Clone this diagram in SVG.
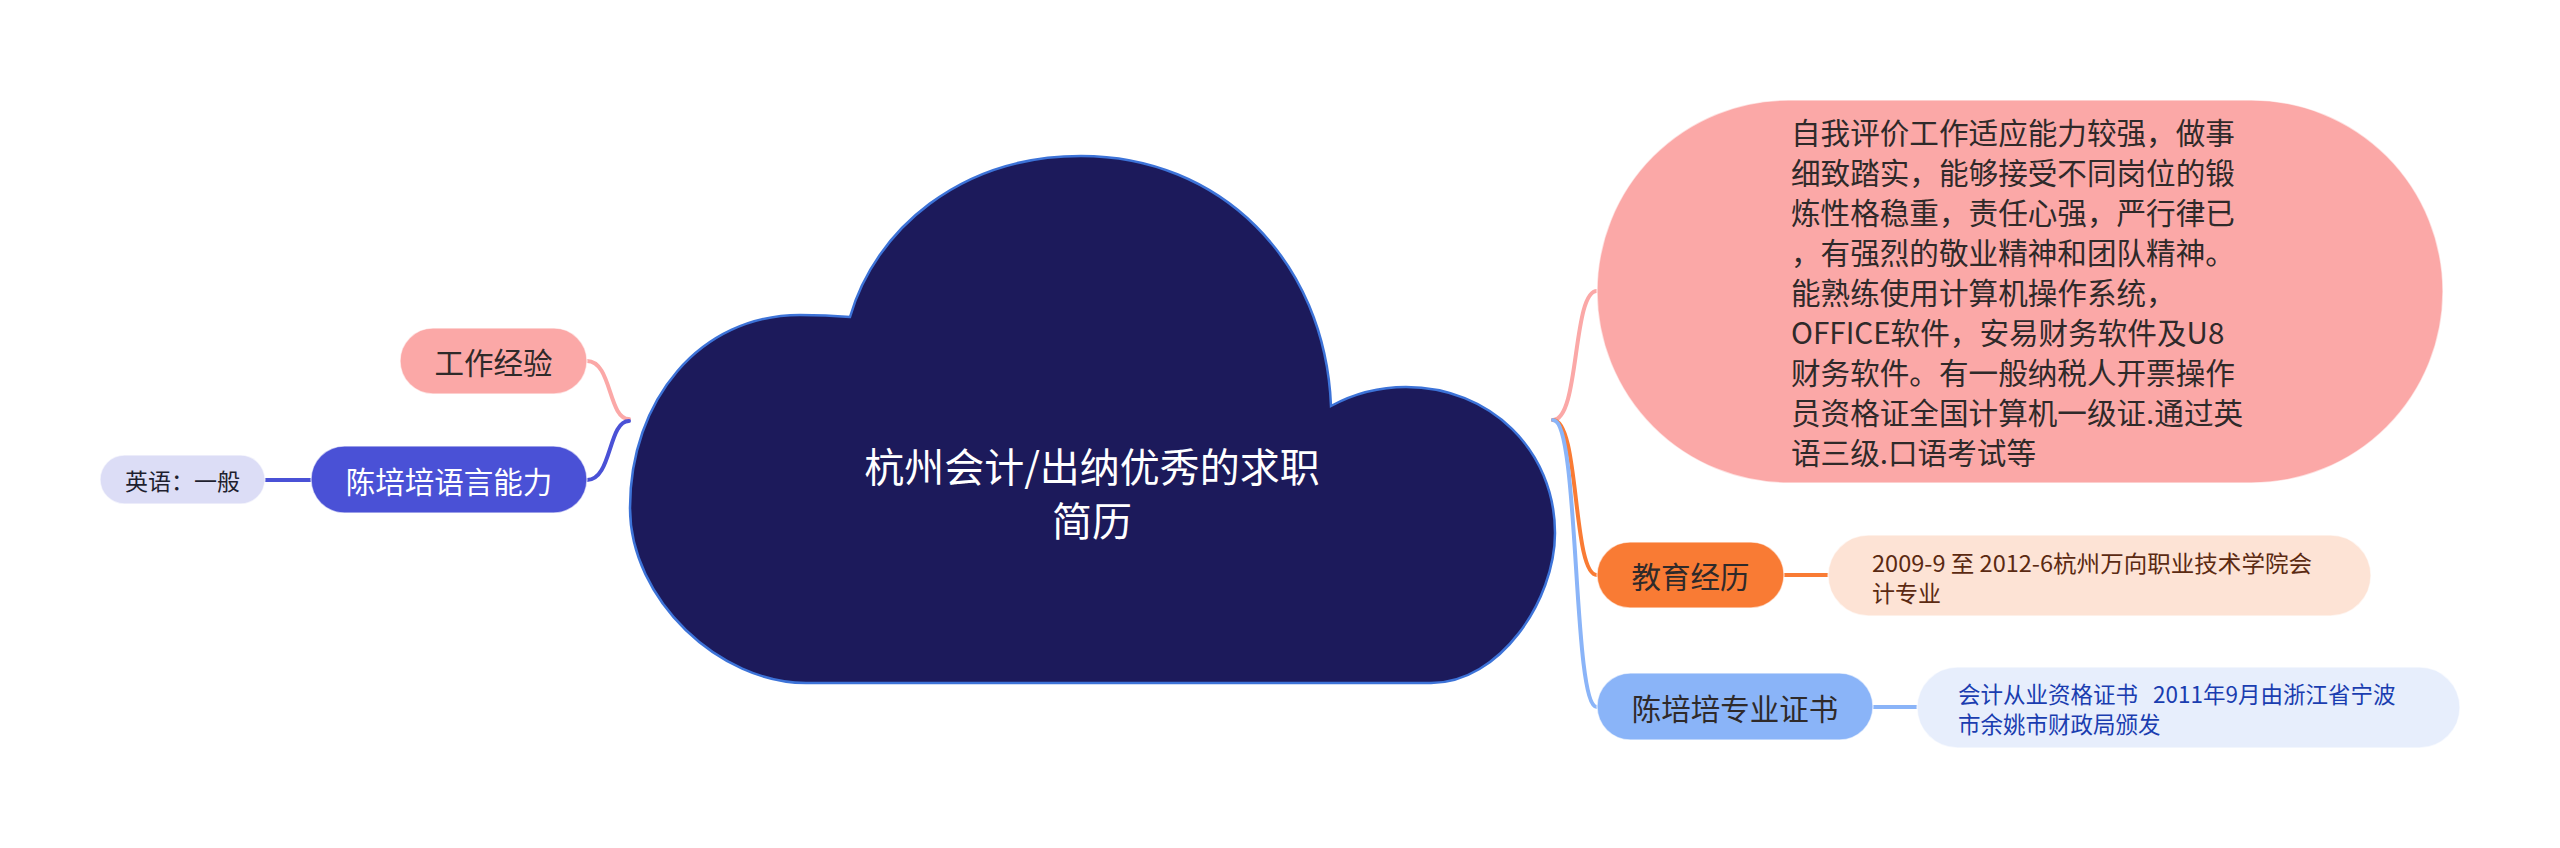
<svg xmlns="http://www.w3.org/2000/svg" width="2560" height="848" viewBox="0 0 2560 848">
<style>
text{font-family:"Noto Sans CJK SC","Noto Sans",sans-serif;dominant-baseline:central}
.lbl{text-anchor:middle;font-size:29.5px;fill:#2f2a2a}
.pill{stroke:#ffffff;stroke-opacity:0.6;stroke-width:1.5}
.conn{fill:none;stroke-width:4;stroke-linecap:round}
</style>
<rect width="2560" height="848" fill="#ffffff"/>
<g id="connectors">
<path class="conn" d="M587 361 C612 361,608 419,629 419" stroke="#FBA8A7"/>
<path class="conn" d="M629 421 C608 421,612 480,587 480" stroke="#4A51D6"/>
<path class="conn" d="M265 480 L311 480" stroke="#4A51D6"/>
<path class="conn" d="M1553 420 C1580 420,1572 291,1597 291" stroke="#FBA8A7" stroke-width="3.5"/>
<path class="conn" d="M1553 420 C1580 420,1572 575,1597 575" stroke="#F97B34"/>
<path class="conn" d="M1553 420 C1580 420,1572 707,1597 707" stroke="#8AB4F8"/>
<path class="conn" d="M1784 575 L1828 575" stroke="#F97B34"/>
<path class="conn" d="M1873 707 L1917 707" stroke="#8AB4F8"/>
</g>
<g id="root">
<path d="M850 317 C875 230,960 156,1081 156 C1220 156,1325 260,1331 406 C1355 393,1380 387,1406 387 C1490 387,1555 450,1555 533 C1555 600,1500 683,1431 683 L806 683 C720 683,630 600,630 508 C630 400,700 315,800 315 C820 315,838 316,850 317 Z" fill="#1C1A5B" stroke="#3D73D8" stroke-width="2.5"/>
<text x="1092" y="465" text-anchor="middle" font-size="40" fill="#ffffff">杭州会计/出纳优秀的求职</text>
<text x="1092" y="519" text-anchor="middle" font-size="40" fill="#ffffff">简历</text>
</g>
<g id="n-work">
<rect class="pill" x="400" y="328" width="187" height="66" rx="33" fill="#FBA8A7"/>
<text class="lbl" x="493.5" y="361">工作经验</text>
</g>
<g id="n-lang">
<rect class="pill" x="311" y="446" width="276" height="67" rx="33.5" fill="#4A51D6"/>
<text class="lbl" x="449" y="479.5" style="fill:#ffffff">陈培培语言能力</text>
</g>
<g id="n-eng">
<rect class="pill" x="100" y="455" width="165" height="49" rx="24.5" fill="#DCDDF6"/>
<text x="182.5" y="479.5" text-anchor="middle" font-size="23" fill="#1f1f2f">英语：一般</text>
</g>
<g id="n-self">
<rect class="pill" x="1597" y="100" width="846" height="383" rx="191.5" fill="#FBA8A7"/>
<g font-size="29.6" fill="#2f2a2a">
<text x="1791" y="131">自我评价工作适应能力较强，做事</text>
<text x="1791" y="171">细致踏实，能够接受不同岗位的锻</text>
<text x="1791" y="211">炼性格稳重，责任心强，严行律已</text>
<text x="1791" y="251">，有强烈的敬业精神和团队精神。</text>
<text x="1791" y="291">能熟练使用计算机操作系统，</text>
<text x="1791" y="331">OFFICE软件，安易财务软件及U8</text>
<text x="1791" y="371">财务软件。有一般纳税人开票操作</text>
<text x="1791" y="411">员资格证全国计算机一级证.通过英</text>
<text x="1791" y="451">语三级.口语考试等</text>
</g>
</g>
<g id="n-edu">
<rect class="pill" x="1597" y="542" width="187" height="66" rx="33" fill="#F97B34"/>
<text class="lbl" x="1690.5" y="575">教育经历</text>
</g>
<g id="n-edu-detail">
<rect class="pill" x="1828" y="535" width="543" height="81" rx="40.5" fill="#FDE3D5"/>
<g font-size="23" fill="#5B2A12">
<text x="1872" y="562" textLength="440" lengthAdjust="spacingAndGlyphs">2009-9 至 2012-6杭州万向职业技术学院会</text>
<text x="1872" y="592">计专业</text>
</g>
</g>
<g id="n-cert">
<rect class="pill" x="1597" y="673" width="276" height="67" rx="33.5" fill="#8AB4F8"/>
<text class="lbl" x="1735" y="706.5">陈培培专业证书</text>
</g>
<g id="n-cert-detail">
<rect class="pill" x="1917" y="667" width="543" height="81" rx="40.5" fill="#E7EEFC"/>
<g font-size="22.5" fill="#1A3DB0">
<text x="1958" y="693" style="white-space:pre">会计从业资格证书   2011年9月由浙江省宁波</text>
<text x="1958" y="723">市余姚市财政局颁发</text>
</g>
</g>
</svg>
